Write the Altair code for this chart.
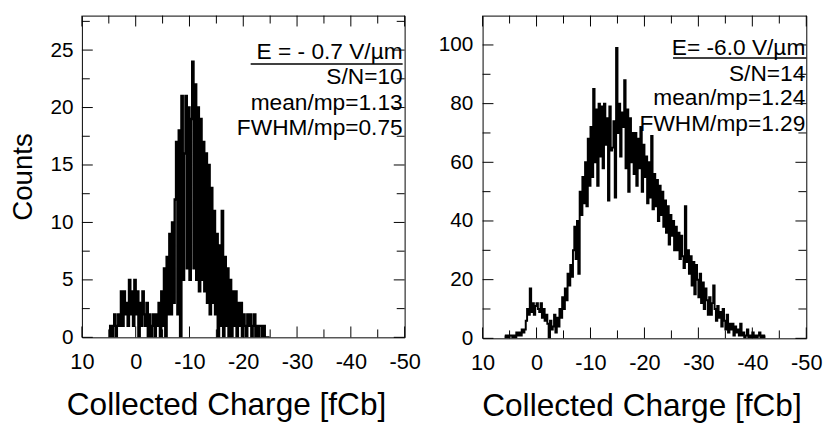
import altair as alt
import pandas as pd

# ---------------- data ----------------
bin_width = 0.25  # fC per bin

# Left panel (E = -0.7 V/um): counts per bin, bins start at +5 fC and run negative
left_start = 5.0
left_counts_a = [0, 1, 0, 1, 2, 0, 1, 2, 1, 4,
                 1, 4, 2, 3, 1, 5, 2, 4, 1, 5,
                 2, 4, 0, 3, 1, 4, 2, 1, 3, 0,
                 2, 0, 1, 2, 0, 2, 1, 3, 0, 4]
left_counts_b = [1, 6, 0, 7, 2, 9, 2, 10, 3, 12,
                 17, 2, 18, 0, 21, 5, 16, 21, 6, 20,
                 5, 19, 24, 6, 22, 5, 20, 4, 19, 5,
                 17, 4, 16, 3, 15, 2, 13, 3, 11, 2]
left_counts_c = [9, 0, 8, 1, 11, 0, 7, 1, 6, 0,
                 5, 0, 4, 1, 4, 0, 3, 1, 3, 0,
                 2, 1, 0, 2, 1, 2, 0, 1, 2, 0,
                 1, 0, 1, 1, 0, 1, 0, 0, 0, 0]

# Right panel (E = -6.0 V/um): bins start at +6 fC
right_start = 6.0
right_counts_a = [1, 0, 1, 0, 1, 1, 0, 1,
                  0, 2, 1, 2, 1, 3, 2, 3,
                  6, 10, 8, 17, 9, 12, 8, 11,
                  12, 10, 9, 12, 7, 10, 6, 8,
                  5, 0, 6, 3, 4, 8, 2, 7,
                  4, 10, 7, 14, 10, 17, 13, 22,
                  18, 25, 21, 30, 38, 27, 40, 22,
                  50, 42, 55, 46, 60, 45, 68, 52]
right_counts_b = [72, 55, 85, 60, 78, 52, 80, 62,
                  79, 58, 80, 66, 75, 47, 79, 64,
                  65, 74, 48, 99, 70, 80, 62, 77,
                  72, 88, 58, 78, 50, 75, 60, 70,
                  56, 70, 52, 68, 58, 72, 50, 66,
                  55, 62, 46, 60, 48, 69, 44, 56,
                  45, 54, 40, 52, 42, 50, 38, 47,
                  36, 45, 32, 42, 35, 40, 30, 38]
right_counts_c = [30, 36, 27, 35, 28, 24, 45, 26,
                  30, 22, 28, 18, 26, 15, 25, 20,
                  14, 22, 12, 19, 10, 17, 13, 8,
                  14, 8, 12, 18, 10, 6, 11, 7,
                  9, 4, 10, 6, 3, 8, 2, 5,
                  3, 5, 1, 4, 2, 3, 1, 5,
                  1, 2, 0, 1, 3, 0, 1, 0,
                  2, 0, 1, 0, 1, 2, 0, 1,
                  0, 1]

x_major = [10, 0, -10, -20, -30, -40, -50]
x_minor = [5, -5, -15, -25, -35, -45]
left_y_major = [0, 5, 10, 15, 20, 25]
left_y_minor = [2.5, 7.5, 12.5, 17.5, 22.5, 27.5]
right_y_major = [0, 20, 40, 60, 80, 100]
right_y_minor = [10, 30, 50, 70, 90]

left_notes = ["E = - 0.7 V/µm", "S/N=10", "mean/mp=1.13", "FWHM/mp=0.75"]
right_notes = ["E= -6.0 V/µm", "S/N=14", "mean/mp=1.24", "FWHM/mp=1.29"]

x_title = "Collected Charge [fCb]"
y_title = "Counts"

FONT = "Liberation Sans"


def hist_frame(start, counts):
    centers = [start - bin_width * (i + 0.5) for i in range(len(counts))]
    return pd.DataFrame({"x": centers, "y": counts})


def panel(counts, start, ymax, y_major, y_minor, notes, W, H,
          y_axis_title, title_x, note_x, note_ys, ul_x1, ul_x2, ul_y, lab_pad, sw):
    x_axis = alt.Axis(values=x_major, title=x_title, labelFontSize=22,
                      labelPadding=15, titlePadding=17, titleFontSize=32,
                      titleX=title_x, labelFlush=False,
                      labelExpr="'' + datum.value")
    y_axis = alt.Axis(values=y_major, title=y_axis_title, labelFontSize=21,
                      labelPadding=lab_pad, titlePadding=13, titleFontSize=28)
    x_enc = alt.X("x:Q", scale=alt.Scale(domain=[10, -50], nice=False, zero=False),
                  axis=x_axis)
    y_enc = alt.Y("y:Q", scale=alt.Scale(domain=[0, ymax], nice=False), axis=y_axis)

    hist = alt.Chart(hist_frame(start, counts)).mark_line(
        interpolate="step", color="black", strokeWidth=sw, clip=True
    ).encode(x=x_enc, y=y_enc)

    layers = [hist]
    # inward ticks on all four sides
    for vals, ln in ((x_major, 11), (x_minor, 8)):
        df = pd.DataFrame({"x": vals})
        layers.append(alt.Chart(df).mark_rule(color="black", strokeWidth=1).encode(
            x=x_enc, y=alt.value(H), y2=alt.value(H - ln)))
        layers.append(alt.Chart(df).mark_rule(color="black", strokeWidth=1).encode(
            x=x_enc, y=alt.value(0), y2=alt.value(ln)))
    for vals, ln in ((y_major, 11), (y_minor, 8)):
        df = pd.DataFrame({"y": vals})
        layers.append(alt.Chart(df).mark_rule(color="black", strokeWidth=1).encode(
            y=y_enc, x=alt.value(0), x2=alt.value(ln)))
        layers.append(alt.Chart(df).mark_rule(color="black", strokeWidth=1).encode(
            y=y_enc, x=alt.value(W), x2=alt.value(W - ln)))

    for s, yy in zip(notes, note_ys):
        layers.append(alt.Chart(pd.DataFrame({"t": [s]})).mark_text(
            align="right", baseline="alphabetic", fontSize=23, font=FONT, color="black"
        ).encode(text="t:N", x=alt.value(note_x), y=alt.value(yy)))
    layers.append(alt.Chart(pd.DataFrame({"t": [notes[0]]})).mark_rule(
        color="black", strokeWidth=1.5).encode(
        x=alt.value(ul_x1), x2=alt.value(ul_x2), y=alt.value(ul_y)))

    return alt.layer(*layers).properties(width=W, height=H)


left = panel(left_counts_a + left_counts_b + left_counts_c, left_start, 28,
             left_y_major, left_y_minor, left_notes, 327, 326,
             y_title, 146, 325, [44, 69.5, 95.5, 120.5], 171, 325, 49, 9, 2.4)
right = panel(right_counts_a + right_counts_b + right_counts_c, right_start, 110,
              right_y_major, right_y_minor, right_notes, 328, 327,
              None, 161, 327, [40, 66, 91, 117], 193, 328, 43, 10, 2.0)

chart = alt.hconcat(left, right, spacing=16).properties(
    padding={"left": 9, "top": 12, "right": 5, "bottom": 0}
).configure(font=FONT).configure_view(
    stroke="black", strokeWidth=1
).configure_axis(
    domain=False, ticks=False, grid=False, labelColor="black", titleColor="black",
    titleFontWeight="normal", labelFont=FONT, titleFont=FONT
)

chart.save("out.html", embed_options={"renderer": "svg", "actions": False})
